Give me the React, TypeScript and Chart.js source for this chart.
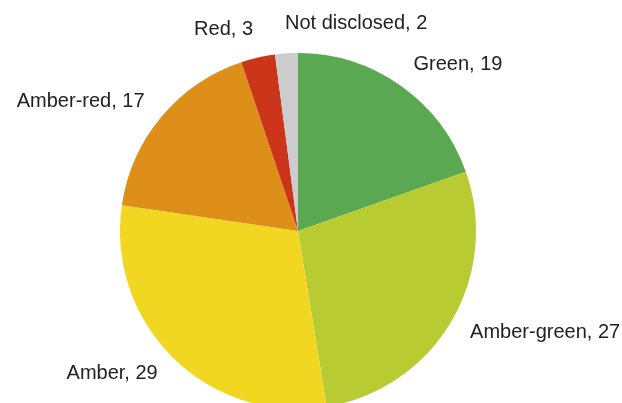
import { useEffect, useRef } from "react";
import { Chart, registerables } from "chart.js";

Chart.register(...registerables);

const categories = ["Green", "Amber-green", "Amber", "Amber-red", "Red", "Not disclosed"];
const values = [19, 27, 29, 17, 3, 2];
const colors = ["#5ba852", "#b8cb32", "#f2d722", "#dd8f19", "#cb3519", "#cccccc"];

const labelPlugin = {
  id: "outerLabels",
  afterDatasetsDraw(chart: any) {
    const ctx = chart.ctx;
    const meta = chart.getDatasetMeta(0);
    ctx.save();
    ctx.font = "20px 'Liberation Sans', Arial, sans-serif";
    ctx.fillStyle = "#222222";
    ctx.textBaseline = "middle";
    meta.data.forEach((arc: any, i: number) => {
      const mid = (arc.startAngle + arc.endAngle) / 2;
      const c = Math.cos(mid);
      const s = Math.sin(mid);
      const x = arc.x + (arc.outerRadius + 22) * c;
      const y = arc.y + (arc.outerRadius + 22 + 8 * Math.max(0, -s) ** 4) * s;
      ctx.textAlign = c >= -0.1 ? "left" : "right";
      ctx.fillText(`${categories[i]}, ${values[i]}`, x, y);
    });
    ctx.restore();
  },
};

export default function App() {
  const ref = useRef<HTMLCanvasElement | null>(null);
  useEffect(() => {
    document.body.style.margin = "0";
    const chart = new Chart(ref.current!, {
      type: "pie",
      data: {
        labels: categories,
        datasets: [
          {
            data: values,
            backgroundColor: colors,
            borderWidth: 0,
          },
        ],
      },
      options: {
        animation: false,
        responsive: false,
        layout: { padding: { left: 120, right: 146, top: 53, bottom: 61 } },
        plugins: { legend: { display: false }, tooltip: { enabled: false } },
      },
      plugins: [labelPlugin],
    });
    return () => chart.destroy();
  }, []);
  return (
    <div style={{ position: "absolute", left: 0, top: 0, width: 622, height: 403, overflow: "hidden" }}>
      <canvas ref={ref} width={622} height={470} style={{ display: "block" }} />
    </div>
  );
}
